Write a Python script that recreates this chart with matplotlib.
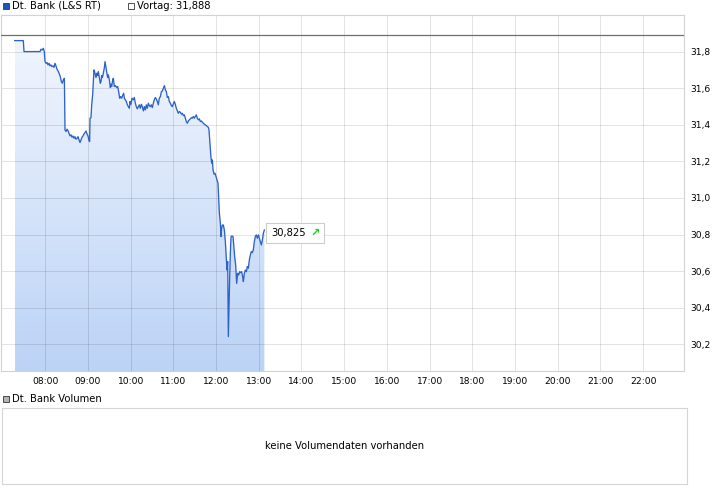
import matplotlib
matplotlib.use("Agg")
import matplotlib.pyplot as plt
import numpy as np
from matplotlib.patches import Polygon, Rectangle
from matplotlib.colors import LinearSegmentedColormap
from matplotlib.offsetbox import TextArea, HPacker, AnnotationBbox

# ---------------- data ----------------
# minutes after 07:00
minutes = [
    17.0, 29.1, 30.1, 52.6, 54.0, 55.8, 57.2, 58.6, 59.6, 61.0,
    62.4, 63.8, 65.2, 66.6, 68.0, 69.4, 70.8, 72.2, 73.6, 75.0,
    76.4, 78.3, 79.7, 81.1, 82.5, 83.9, 85.3, 86.8, 87.7, 89.1,
    90.5, 91.9, 93.3, 94.7, 96.1, 97.5, 98.9, 100.3, 101.7, 103.1,
    104.6, 106.0, 107.4, 108.8, 110.2, 111.6, 113.0, 114.4, 115.8, 117.2,
    118.6, 120.0, 121.4, 122.3, 122.8, 124.2, 125.2, 126.6, 128.4, 129.8,
    131.2, 132.7, 133.6, 134.5, 135.9, 137.3, 138.3, 139.2, 140.2, 141.6,
    143.0, 143.9, 145.3, 146.7, 147.6, 148.6, 150.0, 151.4, 152.3, 153.3,
    154.7, 155.6, 157.0, 158.4, 160.3, 161.7, 163.1, 164.5, 165.9, 167.3,
    168.7, 170.1, 171.1, 172.5, 173.9, 175.3, 176.7, 178.1, 179.0, 180.4,
    181.8, 183.7, 185.1, 186.5, 187.9, 189.3, 190.7, 192.1, 193.5, 195.0,
    196.4, 197.8, 199.2, 200.6, 202.0, 203.4, 204.8, 206.2, 207.6, 209.0,
    210.4, 211.8, 213.2, 214.6, 216.0, 217.4, 218.8, 220.2, 221.7, 223.1,
    224.5, 225.9, 227.3, 228.7, 230.1, 231.5, 232.9, 234.3, 235.7, 237.1,
    238.5, 239.9, 241.3, 242.7, 244.1, 245.5, 246.9, 248.3, 249.8, 251.2,
    252.6, 254.0, 255.4, 256.8, 258.2, 259.6, 261.0, 262.4, 263.8, 265.2,
    266.6, 268.0, 269.4, 270.8, 272.2, 273.6, 275.0, 276.5, 277.9, 279.3,
    280.7, 282.1, 283.5, 284.9, 286.3, 287.7, 289.1, 290.0, 291.4, 292.8,
    293.8, 294.7, 295.7, 297.1, 298.5, 299.9, 301.3, 302.7, 303.6, 304.6,
    306.0, 306.9, 307.8, 308.8, 310.2, 311.6, 313.0, 314.4, 315.3, 316.3,
    317.2, 318.1, 319.1, 320.0, 321.0, 322.4, 323.8, 324.7, 326.1, 327.5,
    328.9, 330.3, 331.7, 333.1, 334.5, 335.9, 337.3, 338.3, 339.7, 341.1,
    342.5, 343.9, 345.3, 346.7, 348.1, 349.5, 350.9, 352.3, 353.7, 355.1,
    356.5, 358.0, 359.4, 360.8, 362.2, 363.6, 365.0, 366.4, 367.8,
]
prices = [
    31.860, 31.860, 31.800, 31.800, 31.813, 31.809, 31.818, 31.800, 31.745, 31.736,
    31.740, 31.727, 31.736, 31.722, 31.727, 31.718, 31.722, 31.714, 31.736, 31.722,
    31.704, 31.691, 31.678, 31.663, 31.636, 31.627, 31.645, 31.654, 31.372, 31.363,
    31.376, 31.368, 31.354, 31.339, 31.345, 31.332, 31.339, 31.326, 31.335, 31.321,
    31.326, 31.335, 31.317, 31.303, 31.317, 31.332, 31.339, 31.350, 31.357, 31.366,
    31.350, 31.339, 31.314, 31.308, 31.436, 31.439, 31.509, 31.567, 31.700, 31.682,
    31.658, 31.682, 31.669, 31.691, 31.658, 31.627, 31.636, 31.669, 31.658, 31.682,
    31.713, 31.745, 31.713, 31.682, 31.658, 31.673, 31.645, 31.603, 31.622, 31.609,
    31.645, 31.654, 31.609, 31.614, 31.603, 31.609, 31.581, 31.545, 31.554, 31.545,
    31.560, 31.572, 31.545, 31.536, 31.527, 31.509, 31.499, 31.490, 31.527, 31.512,
    31.545, 31.536, 31.549, 31.518, 31.499, 31.487, 31.499, 31.509, 31.490, 31.512,
    31.499, 31.476, 31.499, 31.481, 31.509, 31.490, 31.518, 31.505, 31.499, 31.509,
    31.494, 31.518, 31.536, 31.549, 31.541, 31.527, 31.509, 31.545, 31.554, 31.581,
    31.585, 31.600, 31.614, 31.591, 31.581, 31.549, 31.554, 31.527, 31.518, 31.505,
    31.499, 31.514, 31.527, 31.512, 31.490, 31.476, 31.463, 31.472, 31.468, 31.458,
    31.463, 31.450, 31.454, 31.436, 31.417, 31.408, 31.421, 31.427, 31.432, 31.439,
    31.436, 31.445, 31.436, 31.445, 31.454, 31.436, 31.427, 31.432, 31.417, 31.421,
    31.414, 31.408, 31.403, 31.399, 31.396, 31.390, 31.386, 31.372, 31.299, 31.221,
    31.190, 31.208, 31.153, 31.130, 31.135, 31.117, 31.098, 31.080, 31.007, 30.916,
    30.862, 30.789, 30.834, 30.852, 30.852, 30.825, 30.761, 30.661, 30.606, 30.652,
    30.242, 30.406, 30.570, 30.698, 30.789, 30.792, 30.789, 30.743, 30.679, 30.634,
    30.533, 30.588, 30.579, 30.597, 30.592, 30.597, 30.570, 30.543, 30.588, 30.606,
    30.597, 30.625, 30.616, 30.661, 30.688, 30.707, 30.701, 30.716, 30.761, 30.789,
    30.798, 30.780, 30.798, 30.780, 30.761, 30.743, 30.770, 30.807, 30.825,
]
prev_close = 31.888
last_label = "30,825"
series_name = "Dt. Bank (L&S RT)"
prev_label = "Vortag: 31,888"
volume_name = "Dt. Bank Volumen"
no_volume_text = "keine Volumendaten vorhanden"
hour_ticks = list(range(8, 23))
hour_labels = ["%02d:00" % h for h in hour_ticks]
price_ticks = [30.2, 30.4, 30.6, 30.8, 31.0, 31.2, 31.4, 31.6, 31.8]
price_labels = [("%.1f" % p).replace(".", ",") for p in price_ticks]

# ---------------- figure ----------------
W, H = 726, 496
fig = plt.figure(figsize=(W / 100, H / 100), dpi=100)
plt.rcParams["font.family"] = ["DejaVu Sans"]

def fx(px):
    return px / W

def fy(py):
    return 1 - py / H

ax = fig.add_axes([fx(1), fy(371), fx(684.3) - fx(1), fy(15) - fy(371)])
x0, x1 = 6.9625, 22.965
y0, y1 = 30.054, 32.0
ax.set_xlim(x0, x1)
ax.set_ylim(y0, y1)

t = 7 + np.array(minutes) / 60.0
v = np.array(prices)

# gradient fill under the line
verts = [(t[0], y0)] + list(zip(t, v)) + [(t[-1], y0)]
poly = Polygon(verts, closed=True, facecolor="none", edgecolor="none")
ax.add_patch(poly)
cmap = LinearSegmentedColormap.from_list("g", ["#bbd3f6", "#f5f8fe"])
grad = np.linspace(0, 1, 256).reshape(-1, 1)
im = ax.imshow(grad, extent=[t[0], t[-1], y0, y1], origin="lower",
               aspect="auto", cmap=cmap, zorder=1, interpolation="bilinear")
im.set_clip_path(poly)

# grid
gcol = (0, 0, 0, 0.11)
for h in hour_ticks:
    ax.axvline(h, color=gcol, lw=0.72, zorder=2)
for p in price_ticks:
    ax.axhline(p, color=gcol, lw=0.72, zorder=2)

ax.axhline(prev_close, color="#6e6e6e", lw=0.9, zorder=3)
ax.plot(t, v, color="#2d63c6", lw=0.95, zorder=4)

ax.set_xticks(hour_ticks)
ax.set_xticklabels(hour_labels)
ax.set_yticks(price_ticks)
ax.set_yticklabels(price_labels)
ax.yaxis.tick_right()
ax.tick_params(axis="both", length=0, labelsize=6.6, colors="#000000")
ax.tick_params(axis="x", pad=4)
ax.tick_params(axis="y", pad=4)
for s in ax.spines.values():
    s.set_color("#d2d2d2")
    s.set_linewidth(0.8)

# last value label
ta1 = TextArea(last_label, textprops=dict(size=7.2, color="black"))
ta2 = TextArea("\u2197", textprops=dict(size=8, color="#00dd00", weight="bold"))
pack = HPacker(children=[ta1, ta2], sep=3, pad=0, align="center")
ab = AnnotationBbox(pack, (t[-1], v[-1]), xybox=(5, -2), boxcoords="offset points",
                    box_alignment=(0, 0.5), frameon=True, pad=0.35,
                    bboxprops=dict(edgecolor="#cccccc", facecolor="white", lw=0.8),
                    zorder=6)
ax.add_artist(ab)

# top legend
fig.patches.append(Rectangle((fx(3), fy(9)), fx(6), 6 / H, transform=fig.transFigure,
                             facecolor="#1f55b5", edgecolor="#1a3d80", lw=0.6))
fig.text(fx(12), fy(6), series_name, fontsize=7.2, va="center", ha="left")
fig.patches.append(Rectangle((fx(128), fy(9)), fx(6), 6 / H, transform=fig.transFigure,
                             facecolor="white", edgecolor="#333333", lw=0.6))
fig.text(fx(137), fy(6), prev_label, fontsize=7.2, va="center", ha="left")

# volume panel
fig.patches.append(Rectangle((fx(3), fy(402)), fx(6), 6 / H, transform=fig.transFigure,
                             facecolor="#b4b4b4", edgecolor="#333333", lw=0.6))
fig.text(fx(12), fy(399), volume_name, fontsize=7.2, va="center", ha="left")
axv = fig.add_axes([fx(2), fy(484), fx(687) - fx(2), fy(408) - fy(484)])
axv.set_xticks([])
axv.set_yticks([])
for s in axv.spines.values():
    s.set_color("#d5d5d5")
    s.set_linewidth(0.8)
axv.text(0.5, 0.5, no_volume_text, transform=axv.transAxes, ha="center",
         va="center", fontsize=7.2)

fig.savefig("out.png", dpi=100)
